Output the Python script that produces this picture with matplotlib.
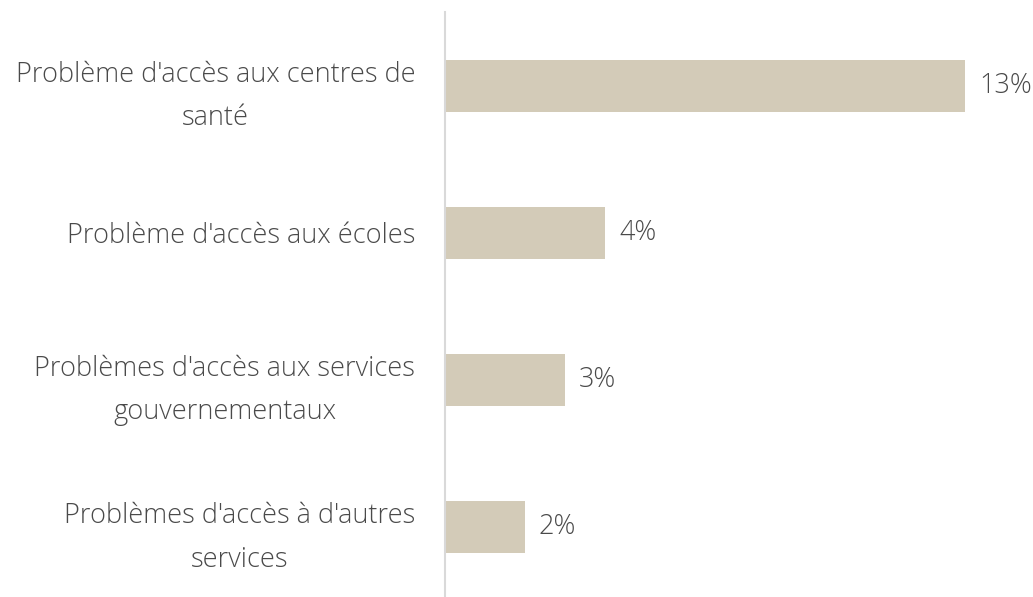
import matplotlib.pyplot as plt
from matplotlib import font_manager

categories = ["Problème d'accès aux centres de\nsanté",
              "Problème d'accès aux écoles",
              "Problèmes d'accès aux services\ngouvernementaux",
              "Problèmes d'accès à d'autres\nservices"]
values = [13, 4, 3, 2]
value_labels = ["13%", "4%", "3%", "2%"]

bar_color = "#D3CBB8"
text_color = "#4A4A4A"

names = {f.name for f in font_manager.fontManager.ttflist}
family = "Open Sans" if "Open Sans" in names else "DejaVu Sans"
plt.rcParams["font.family"] = [family, "DejaVu Sans"]

fig = plt.figure(figsize=(10.33, 5.97), dpi=100)
ax = fig.add_axes([445 / 1033, 0, (1033 - 445) / 1033, 585 / 597])

pos = list(range(len(values)))
ax.barh(pos, values, height=0.353, color=bar_color)
ax.set_ylim(3.476, -0.5)
ax.set_xlim(0, 14.7)

for p, v, lab in zip(pos, values, value_labels):
    ax.text(v + 0.35, p, lab, va="center", ha="left", fontsize=19.5,
            color=text_color, fontweight="light")

ax.set_yticks(pos)
ax.set_yticklabels(categories, fontsize=19.5, color=text_color, fontweight="light",
                   linespacing=1.72, multialignment="center")
ax.tick_params(axis="y", length=0, pad=21.5)
ax.set_xticks([])
for s in ["top", "right", "bottom"]:
    ax.spines[s].set_visible(False)
ax.spines["left"].set_color("#D9D9D9")
ax.spines["left"].set_linewidth(1.5)

fig.savefig("out.png", dpi=100)
